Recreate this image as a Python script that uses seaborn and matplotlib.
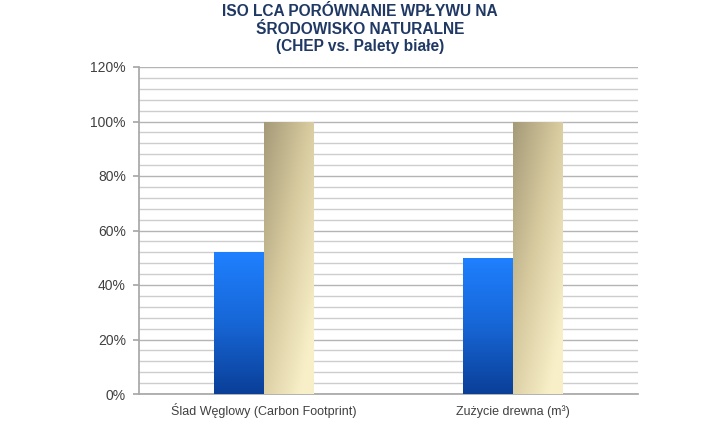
import numpy as np
import pandas as pd
import matplotlib
matplotlib.use("Agg")
import matplotlib.pyplot as plt
import seaborn as sns
from matplotlib.ticker import MultipleLocator, PercentFormatter
from matplotlib.colors import LinearSegmentedColormap

categories = ["Ślad Węglowy (Carbon Footprint)", "Zużycie drewna (m³)"]
series = ["CHEP", "Palety białe"]
chep_values = [52, 50]
white_values = [100, 100]

df = pd.DataFrame({
    "category": categories * 2,
    "series": [series[0]] * 2 + [series[1]] * 2,
    "value": chep_values + white_values,
})

sns.set_theme(style="white")
plt.rcParams["font.family"] = ["Liberation Sans", "DejaVu Sans"]

fig = plt.figure(figsize=(7.2, 4.24), dpi=100)
ax = fig.add_axes([139/720, 1-394/424, (638-139)/720, (394-67)/424])

sns.barplot(data=df, x="category", y="value", hue="series", order=categories,
            hue_order=series, width=0.4, ax=ax, legend=False,
            palette=["#1a6fe0", "#d8cca0"], saturation=1, zorder=3)

ax.set_ylim(0, 120)
ax.set_xlim(-0.5, 1.5)

# gradients
blue_cmap = LinearSegmentedColormap.from_list("b", ["#0a3f98", "#1766d6", "#1f80ff"])
tan_cmap = LinearSegmentedColormap.from_list("t", ["#a59a78", "#d6c99e", "#f8efc8"])
patches = list(ax.patches)
for p in patches:
    x0, y0 = p.get_x(), p.get_y()
    w, h = p.get_width(), p.get_height()
    if h <= 0:
        continue
    fc = p.get_facecolor()
    is_blue = fc[2] > fc[0]
    if is_blue:
        grad = np.linspace(0, 1, 256).reshape(-1, 1)
        cmap = blue_cmap
    else:
        u = np.linspace(0, 1, 128).reshape(1, -1)
        v = np.linspace(1, 0, 256).reshape(-1, 1)
        grad = np.clip(0.55 * u + 0.6 * v, 0, 1)
        cmap = tan_cmap
    im = ax.imshow(grad, extent=[x0, x0 + w, y0, y0 + h], origin="lower",
                   aspect="auto", cmap=cmap, vmin=0, vmax=1, zorder=3,
                   interpolation="bilinear")
    im.set_clip_path(p)
    p.set_facecolor("none")
    p.set_edgecolor("none")

ax.set_xlim(-0.5, 1.5)
ax.set_ylim(0, 120)

ax.yaxis.set_major_locator(MultipleLocator(20))
ax.yaxis.set_minor_locator(MultipleLocator(4))
ax.yaxis.set_major_formatter(PercentFormatter(decimals=0))
ax.grid(axis="y", which="major", color="#b4b4b4", linewidth=1.0, zorder=0)
ax.grid(axis="y", which="minor", color="#cdcdcd", linewidth=1.0, zorder=0)
ax.set_axisbelow(True)

for s in ["top", "right"]:
    ax.spines[s].set_visible(False)
ax.spines["left"].set_color("#a8a8a8")
ax.spines["bottom"].set_color("#a8a8a8")

ax.tick_params(axis="y", which="major", left=True, length=4, color="#a8a8a8",
               labelsize=10, labelcolor="#404040", pad=5.5)
ax.tick_params(axis="y", which="minor", left=False)
ax.tick_params(axis="x", bottom=False, labelsize=9, labelcolor="#404040", pad=9)
for lbl in ax.get_xticklabels():
    lbl.set_verticalalignment("baseline")
ax.set_xlabel("")
ax.set_ylabel("")

fig.text(0.5, 1 - 29/424, "ISO LCA PORÓWNANIE WPŁYWU NA\nŚRODOWISKO NATURALNE\n(CHEP vs. Palety białe)",
         ha="center", va="center", fontsize=11.2, fontweight="bold",
         color="#1f3864", linespacing=1.25)

fig.savefig("out.png", dpi=100, facecolor="white")
